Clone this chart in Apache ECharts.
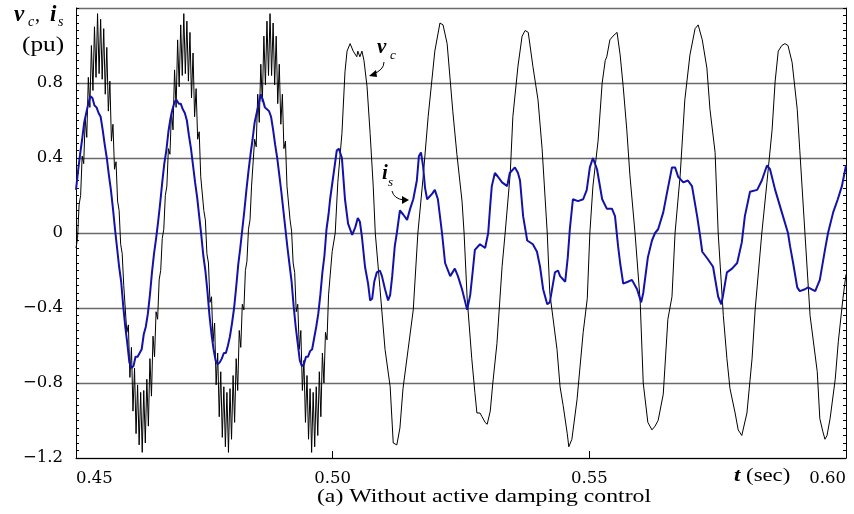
<!DOCTYPE html>
<html>
<head>
<meta charset="utf-8">
<script src="https://cdn.jsdelivr.net/npm/echarts@6/dist/echarts.min.js"></script>
<style>html,body{margin:0;padding:0;background:#fff}#c{width:854px;height:514px}</style>
</head>
<body>
<div id="c"></div>
<script>
// ---------- data ----------
const tStart = 0.45;
// v_c before 0.50 s (switching ripple), sampled every 0.3 ms from 0.45 s
const vcRippleStep = 0.0003;
const vcRipple = [
-0.08,-0.03,0.15,0.20,0.41,0.37,0.61,0.51,0.83,0.67,
1.00,0.76,1.10,0.83,1.17,0.85,1.14,0.82,1.09,0.74,
0.99,0.65,0.81,0.49,0.58,0.34,0.38,0.17,0.12,-0.06,
-0.11,-0.28,-0.29,-0.53,-0.49,-0.77,-0.61,-0.95,-0.72,-1.07,
-0.81,-1.13,-0.85,-1.17,-0.84,-1.12,-0.78,-1.03,-0.67,-0.87,
-0.55,-0.66,-0.42,-0.46,-0.25,-0.20,-0.03,0.02,0.20,0.25,
0.45,0.42,0.65,0.55,0.87,0.67,1.03,0.78,1.11,0.84,
1.17,0.85,1.13,0.81,1.07,0.72,0.96,0.62,0.77,0.50,
0.54,0.30,0.29,0.12,0.07,-0.11,-0.16,-0.37,-0.34,-0.58,
-0.48,-0.81,-0.64,-0.98,-0.74,-1.09,-0.82,-1.14,-0.85,-1.17,
-0.83,-1.10,-0.76,-1.01,-0.67,-0.84,-0.52,-0.61,-0.38,-0.41,
-0.20,-0.15,0.02,0.07,0.25,0.25,0.50,0.46,0.74,0.59,
0.90,0.70,1.05,0.79,1.13,0.84,1.17,0.84,1.12,0.79,
1.05,0.69,0.90,0.58,0.74,0.45,0.49,0.25,0.24,0.07,
0.01,-0.16,-0.21,-0.42,-0.38,-0.62,-0.52,-0.84,-0.68,-1.01,
-0.76,-1.10,-0.83,-1.17,-0.85,-1.14,-0.82,-1.08,-0.74,-0.98,
-0.64,-0.80,-0.53,-0.57,-0.33,-0.32];
// v_c after 0.50 s
const vcLateT = [
0.4999,0.5005,0.5010,0.5018,0.5024,0.5028,0.5034,0.5040,0.5047,0.5049,0.5053,0.5057,0.5061,0.5067,0.5073,0.5079,0.5083,
0.5092,0.5102,0.5112,0.5118,0.5125,0.5131,0.5137,0.5147,0.5157,0.5166,0.5176,0.5186,0.5199,0.5209,0.5215,0.5223,0.5234,
0.5242,0.5252,0.5256,0.5262,0.5271,0.5277,0.5281,0.5287,0.5291,0.5297,0.5301,0.5307,0.5312,0.5320,0.5330,0.5336,0.5346,
0.5351,0.5361,0.5369,0.5375,0.5381,0.5390,0.5400,0.5408,0.5418,0.5423,0.5437,0.5443,0.5449,0.5457,0.5460,0.5466,0.5476,
0.5482,0.5488,0.5496,0.5501,0.5507,0.5517,0.5525,0.5531,0.5534,0.5540,0.5546,0.5554,0.5560,0.5566,0.5573,0.5579,0.5589,
0.5599,0.5605,0.5614,0.5622,0.5628,0.5634,0.5644,0.5653,0.5661,0.5667,0.5677,0.5686,0.5696,0.5706,0.5712,0.5720,0.5729,
0.5735,0.5745,0.5751,0.5761,0.5768,0.5774,0.5784,0.5790,0.5797,0.5807,0.5817,0.5823,0.5836,0.5846,0.5856,0.5862,0.5868,
0.5875,0.5881,0.5887,0.5895,0.5905,0.5910,0.5920,0.5930,0.5944,0.5949,0.5955,0.5959,0.5963,0.5969,0.5979,0.5985,0.5994,0.6000];
const vcLateV = [
-0.10,0.00,0.27,0.53,0.86,0.97,1.01,0.97,0.94,0.97,0.94,0.97,0.92,0.78,0.53,0.25,0.00,
-0.29,-0.62,-0.82,-1.12,-1.13,-1.04,-0.83,-0.62,-0.41,0.00,0.29,0.62,0.97,1.12,1.11,1.01,0.65,
0.42,0.17,0.00,-0.35,-0.67,-0.85,-0.96,-0.96,-0.98,-1.01,-1.02,-0.95,-0.80,-0.59,-0.18,0.00,0.32,
0.62,0.89,1.05,1.08,1.07,0.89,0.71,0.45,0.00,-0.32,-0.62,-0.82,-0.92,-1.07,-1.14,-1.10,-0.89,
-0.71,-0.53,-0.35,0.00,0.25,0.49,0.80,0.92,0.94,1.03,1.05,1.07,0.95,0.78,0.55,0.31,0.00,
-0.36,-0.80,-1.01,-1.05,-1.03,-1.00,-0.86,-0.46,-0.34,0.00,0.31,0.71,0.95,1.09,1.11,1.03,0.88,
0.66,0.43,0.00,-0.44,-0.67,-0.83,-0.96,-1.05,-1.08,-0.96,-0.67,-0.41,0.00,0.27,0.55,0.81,0.97,
1.00,1.01,1.00,0.91,0.66,0.44,0.00,-0.44,-0.74,-0.99,-1.06,-1.10,-1.08,-0.99,-0.78,-0.58,-0.35,-0.22];
// i_s before 0.50 s, sampled every 0.4 ms from 0.45 s
const isEarlyStep = 0.0004;
const isEarly = [
0.23,0.33,0.42,0.50,0.59,0.64,0.69,0.73,0.72,0.68,
0.67,0.64,0.62,0.55,0.47,0.40,0.31,0.23,0.13,0.02,
-0.08,-0.18,-0.26,-0.39,-0.50,-0.59,-0.69,-0.72,-0.71,-0.66,
-0.66,-0.64,-0.62,-0.54,-0.50,-0.43,-0.33,-0.21,-0.11,-0.03,
0.06,0.16,0.27,0.37,0.44,0.54,0.61,0.66,0.70,0.71,
0.69,0.69,0.66,0.64,0.60,0.52,0.45,0.36,0.27,0.19,
0.09,-0.01,-0.12,-0.20,-0.31,-0.44,-0.54,-0.62,-0.68,-0.70,
-0.69,-0.67,-0.64,-0.64,-0.60,-0.55,-0.48,-0.40,-0.29,-0.17,
-0.08,0.02,0.12,0.23,0.33,0.42,0.50,0.59,0.64,0.69,
0.74,0.71,0.67,0.66,0.65,0.62,0.55,0.47,0.40,0.31,
0.22,0.12,0.02,-0.08,-0.17,-0.26,-0.39,-0.50,-0.59,-0.68,
-0.71,-0.70,-0.66,-0.66,-0.63,-0.62,-0.56,-0.50,-0.43,-0.33,
-0.21,-0.12,0.02,0.10];
// i_s after 0.50 s
const isLateT = [
0.4995,0.5001,0.5008,0.5012,0.5018,0.5024,0.5030,0.5038,0.5044,0.5049,0.5053,0.5057,0.5063,0.5069,0.5073,0.5077,0.5081,
0.5086,0.5092,0.5096,0.5102,0.5108,0.5112,0.5116,0.5121,0.5125,0.5131,0.5137,0.5145,0.5151,0.5157,0.5164,0.5168,0.5172,
0.5176,0.5180,0.5184,0.5194,0.5199,0.5205,0.5213,0.5219,0.5229,0.5238,0.5244,0.5252,0.5262,0.5268,0.5273,0.5277,0.5287,
0.5297,0.5303,0.5307,0.5310,0.5316,0.5322,0.5330,0.5340,0.5345,0.5355,0.5361,0.5365,0.5371,0.5379,0.5390,0.5398,0.5404,
0.5410,0.5418,0.5423,0.5433,0.5439,0.5443,0.5453,0.5458,0.5462,0.5468,0.5478,0.5488,0.5495,0.5501,0.5507,0.5515,0.5525,
0.5534,0.5544,0.5550,0.5556,0.5560,0.5566,0.5575,0.5583,0.5593,0.5601,0.5605,0.5614,0.5622,0.5628,0.5634,0.5644,0.5651,
0.5661,0.5667,0.5673,0.5683,0.5692,0.5700,0.5710,0.5716,0.5720,0.5731,0.5741,0.5751,0.5757,0.5760,0.5768,0.5778,0.5788,
0.5797,0.5803,0.5813,0.5827,0.5836,0.5846,0.5852,0.5862,0.5875,0.5887,0.5891,0.5897,0.5905,0.5910,0.5920,0.5926,0.5940,
0.5949,0.5959,0.5965,0.5975,0.5984,0.5992,0.6000];
const isLateV = [
0.18,0.30,0.44,0.45,0.40,0.18,0.05,-0.01,0.03,0.08,0.06,-0.02,-0.18,-0.27,-0.36,-0.35,-0.26,
-0.21,-0.20,-0.23,-0.30,-0.36,-0.33,-0.23,-0.07,0.00,0.12,0.10,0.07,0.13,0.18,0.28,0.41,0.43,
0.36,0.24,0.18,0.21,0.23,0.18,0.00,-0.16,-0.23,-0.19,-0.23,-0.30,-0.41,-0.33,-0.20,-0.09,-0.06,
-0.08,0.00,0.15,0.25,0.32,0.30,0.27,0.25,0.32,0.35,0.32,0.28,0.09,-0.04,-0.06,-0.10,-0.18,
-0.30,-0.38,-0.37,-0.21,-0.20,-0.23,-0.26,-0.13,0.02,0.18,0.17,0.18,0.23,0.35,0.40,0.34,0.18,
0.13,0.13,0.09,-0.07,-0.16,-0.27,-0.26,-0.25,-0.30,-0.37,-0.32,-0.13,-0.04,0.00,0.02,0.11,0.21,
0.35,0.35,0.30,0.27,0.28,0.25,0.09,-0.02,-0.10,-0.14,-0.18,-0.34,-0.38,-0.34,-0.21,-0.19,-0.16,
-0.05,0.09,0.22,0.23,0.28,0.36,0.34,0.23,0.11,0.00,-0.07,-0.16,-0.29,-0.31,-0.30,-0.29,-0.31,
-0.25,-0.09,0.00,0.11,0.18,0.25,0.36];
const xTicks = [0.45, 0.50, 0.55, 0.60];
const yTicks = [-1.2, -0.8, -0.4, 0, 0.4, 0.8, 1.2];

// ---------- build series ----------
const vcData = vcRipple.map((v, i) => [+(tStart + i * vcRippleStep).toFixed(5), v])
  .concat(vcLateT.map((t, i) => [t, vcLateV[i]]));
const isData = isEarly.map((v, i) => [+(tStart + i * isEarlyStep).toFixed(5), v])
  .concat(isLateT.map((t, i) => [t, isLateV[i]]));

const serif = 'Liberation Serif';
function yFmt(v) {
  const r = Math.round(v * 10) / 10;
  if (r >= 1.2) return '';
  if (r === 0) return '0';
  return (r < 0 ? '\u2212' : '') + Math.abs(r).toFixed(1);
}

const chart = echarts.init(document.getElementById('c'), null, {renderer: 'canvas'});
const option = {
  animation: false,
  backgroundColor: '#fff',
  grid: {left: 76, right: 8, top: 8, bottom: 56, containLabel: false},
  xAxis: {
    type: 'value', min: xTicks[0], max: xTicks[xTicks.length - 1], interval: 0.05,
    axisLine: {show: true, onZero: false, lineStyle: {color: '#000', width: 1}},
    axisTick: {show: true, inside: true, length: 7, lineStyle: {color: '#000'}},
    axisLabel: {formatter: v => v.toFixed(2), fontFamily: 'DejaVu Serif', fontSize: 16.5, color: '#000', margin: 12,
      alignMinLabel: 'left', alignMaxLabel: 'right'},
    splitLine: {show: false}
  },
  yAxis: [{
    type: 'value', min: yTicks[0], max: yTicks[yTicks.length - 1], interval: 0.4,
    axisLine: {show: true, onZero: false, lineStyle: {color: '#000', width: 1}},
    axisTick: {show: true, inside: true, length: 3, lineStyle: {color: '#000'}},
    minorTick: {show: true, splitNumber: 10, length: 3, lineStyle: {color: '#000'}},
    axisLabel: {formatter: yFmt, fontFamily: 'DejaVu Serif', fontSize: 16.5, color: '#000', margin: 13},
    splitLine: {show: true, lineStyle: {color: '#6a6a6a', width: 1.3}}
  }, {
    type: 'value', position: 'right', min: yTicks[0], max: yTicks[yTicks.length - 1], interval: 0.4,
    axisLine: {show: true, onZero: false, lineStyle: {color: '#000', width: 1}},
    axisTick: {show: true, inside: true, length: 3, lineStyle: {color: '#000'}},
    minorTick: {show: true, splitNumber: 10, length: 3, lineStyle: {color: '#000'}},
    axisLabel: {show: false},
    splitLine: {show: false}
  }],
  series: [{
    name: 'vc', type: 'line', data: vcData, symbol: 'none', z: 2,
    lineStyle: {color: '#000', width: 1}
  }, {
    name: 'is', type: 'line', data: isData, symbol: 'none', z: 3,
    lineStyle: {color: '#1212aa', width: 2}
  }],
  graphic: [
    // y-axis name
    {type: 'text', left: 14, top: 4, style: {text: 'v', font: 'italic bold 23px ' + serif, fill: '#000'}},
    {type: 'text', left: 28, top: 15, style: {text: 'c', font: 'italic 14px ' + serif, fill: '#000'}},
    {type: 'text', left: 35, top: 6, style: {text: ',', font: '20px ' + serif, fill: '#000'}},
    {type: 'text', left: 50, top: 4, style: {text: 'i', font: 'italic bold 23px ' + serif, fill: '#000'}},
    {type: 'text', left: 58, top: 15, style: {text: 's', font: 'italic 14px ' + serif, fill: '#000'}},
    {type: 'text', x: 22, y: 34, scaleX: 1.15, originX: 0, originY: 0,
      style: {text: '(pu)', font: '22px ' + serif, fill: '#000'}},
    // x-axis name
    {type: 'text', x: 734, y: 467, scaleX: 1.2, originX: 0, originY: 0, style: {
      text: '{i|t} (sec)', font: '19px ' + serif, fill: '#000',
      rich: {i: {fontStyle: 'italic', fontWeight: 'bold', fontFamily: serif, fontSize: 19}}}},
    // caption
    {type: 'text', x: 484, y: 497, scaleX: 1.25, originX: 0, originY: 0, style: {
      text: '(a) Without active damping control', font: '19px ' + serif, fill: '#000',
      align: 'center', verticalAlign: 'middle'}},
    // v_c annotation
    {type: 'text', left: 377, top: 37, style: {text: 'v', font: 'italic bold 21px ' + serif, fill: '#000'}},
    {type: 'text', left: 390, top: 49, style: {text: 'c', font: 'italic 13px ' + serif, fill: '#000'}},
    {type: 'bezierCurve', shape: {x1: 384, y1: 62, cpx1: 384, cpy1: 70, x2: 373, y2: 74},
      style: {stroke: '#000', lineWidth: 1, fill: null}},
    {type: 'polygon', shape: {points: [[369, 76], [376, 70], [377, 77]]}, style: {fill: '#000'}},
    // i_s annotation
    {type: 'text', left: 382, top: 163, style: {text: 'i', font: 'italic bold 21px ' + serif, fill: '#000'}},
    {type: 'text', left: 388, top: 176, style: {text: 's', font: 'italic 13px ' + serif, fill: '#000'}},
    {type: 'bezierCurve', shape: {x1: 392, y1: 191, cpx1: 394, cpy1: 199, x2: 404, y2: 200},
      style: {stroke: '#000', lineWidth: 1, fill: null}},
    {type: 'polygon', shape: {points: [[409, 200], [402, 196], [402, 204]]}, style: {fill: '#000'}}
  ]
};
chart.setOption(option);
</script>
</body>
</html>
